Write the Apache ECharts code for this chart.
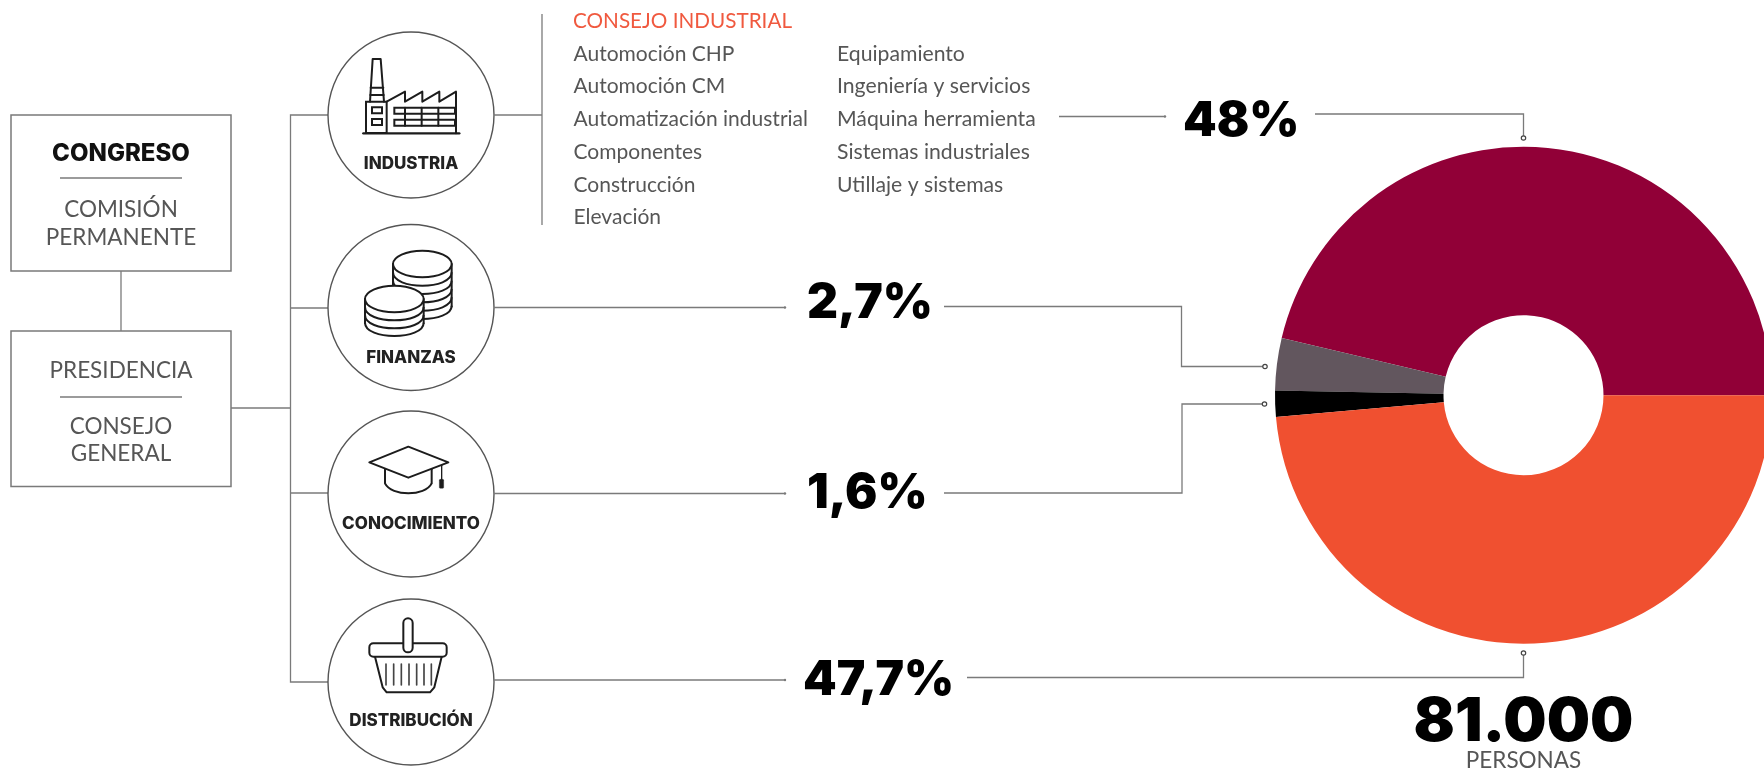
<!DOCTYPE html>
<html><head><meta charset="utf-8">
<style>html,body{margin:0;padding:0;background:#fff;overflow:hidden}#c{width:1764px;height:769px}</style>
<script src="https://cdn.jsdelivr.net/npm/echarts@6/dist/echarts.min.js"></script>
</head><body><div id="c"></div>
<script>
// --- data ---
const sectors = ['Industria', 'Finanzas', 'Conocimiento', 'Distribución'];
const printedShares = ['48%', '2,7%', '1,6%', '47,7%'];
// Wedge shares as drawn in the picture (measured from its wedge angles)
const drawnShares = [46.3, 3.4, 1.7, 48.6];
const sectorColors = ['#910037', '#62565e', '#000000', '#f05030'];
const circleLabels = ['INDUSTRIA', 'FINANZAS', 'CONOCIMIENTO', 'DISTRIBUCIÓN'];
const councilTitle = 'CONSEJO INDUSTRIAL';
const councilCol1 = ['Automoción CHP', 'Automoción CM', 'Automatización industrial', 'Componentes', 'Construcción', 'Elevación'];
const councilCol2 = ['Equipamiento', 'Ingeniería y servicios', 'Máquina herramienta', 'Sistemas industriales', 'Utillaje y sistemas'];
const box1Head = 'CONGRESO';
const box1Body = ['COMISIÓN', 'PERMANENTE'];
const box2Head = 'PRESIDENCIA';
const box2Body = ['CONSEJO', 'GENERAL'];
const totalValue = '81.000';
const totalLabel = 'PERSONAS';

// --- drawing helpers ---
const LINE = '#7a7a7a', INK = '#1c1c1c', BODY = '#565656', ORANGE = '#f0593f';
const LIGHT = 'Lato, sans-serif', HEAVY = 'Inter, sans-serif';
const g = [];
const line = (pts, w = 1.3, c = LINE) => g.push({type:'polyline', shape:{points:pts}, style:{stroke:c, lineWidth:w, fill:null}});
const text = (t, x, y, font, fill, align = 'left') => g.push({type:'text', x, y, style:{text:t, font, fill, align, verticalAlign:'middle'}});
const dot = (x, y, r = 2.2) => g.push({type:'circle', shape:{cx:x, cy:y, r}, style:{fill:'#fff', stroke:'#444', lineWidth:1.2}});
const tick = (x, y) => g.push({type:'circle', shape:{cx:x, cy:y, r:1.2}, style:{fill:LINE}});
const box = (x, y, w, h) => g.push({type:'rect', shape:{x, y, width:w, height:h}, style:{fill:'#fff', stroke:LINE, lineWidth:1.5}});

// Icon pieces, in a 3x local grid
const W = 6;
const iL = (pts, w = W, c = INK) => ({type:'polyline', shape:{points:pts}, style:{stroke:c, lineWidth:w, fill:null, lineJoin:'round', lineCap:'round'}});
const iR = (x, y, w, h, r = 0, fill = null, lw = W) => ({type:'rect', shape:{x, y, width:w, height:h, r}, style:{stroke:INK, lineWidth:lw, fill}});
const iE = (cx, cy, rx, ry, fill = '#fff') => ({type:'ellipse', shape:{cx, cy, rx, ry}, style:{stroke:INK, lineWidth:W, fill}});
const iB = (cx, cy, rx, ry) => ({type:'bezierCurve', shape:{x1:cx-rx, y1:cy, x2:cx+rx, y2:cy, cpx1:cx-rx, cpy1:cy+ry*1.33, cpx2:cx+rx, cpy2:cy+ry*1.33}, style:{stroke:INK, lineWidth:W, fill:null}});
const icon = (x, y, children) => g.push({type:'group', x, y, scaleX:1/3, scaleY:1/3, children});

// Left boxes
box(11, 115, 220, 156);
box(11, 331, 220, 155.5);
line([[121, 271], [121, 331]]);
text(box1Head, 121, 154, '800 24px ' + HEAVY, '#111', 'center');
line([[60, 178], [182, 178]]);
text(box1Body[0], 121, 210, '400 22.5px ' + LIGHT, BODY, 'center');
text(box1Body[1], 121, 238, '400 22.5px ' + LIGHT, BODY, 'center');
text(box2Head, 121, 371, '400 22.5px ' + LIGHT, BODY, 'center');
line([[60, 397], [182, 397]]);
text(box2Body[0], 121, 427, '400 22.5px ' + LIGHT, BODY, 'center');
text(box2Body[1], 121, 454, '400 22.5px ' + LIGHT, BODY, 'center');

// Org tree
line([[231, 408], [290.5, 408]]);
line([[328, 115], [290.5, 115], [290.5, 682], [328, 682]]);
line([[290.5, 308], [328, 308]]);
line([[290.5, 493], [328, 493]]);

// Circles with labels
const circleY = [115, 307.5, 494, 682];
const labelY = [164, 357.5, 524, 720.5];
circleY.forEach((cy, i) => {
  g.push({type:'circle', shape:{cx:411, cy, r:83}, style:{fill:'#fff', stroke:'#555', lineWidth:1.4}});
  text(circleLabels[i], 411, labelY[i], '800 17px ' + HEAVY, '#222', 'center');
});

// Factory
icon(350, 45, [
  iL([[60,170],[68,42],[92,42],[102,170]]),
  iL([[62,128],[100,128]]), iL([[61,150],[101,150]]),
  iR(48,170,62,94), iR(66,187,30,18), iR(66,222,30,18),
  iL([[110,170],[165,140],[165,170],[217,140],[217,170],[268,140],[268,170],[318,140],[318,265]]),
  iR(133,188,182,18), iR(133,224,182,18),
  iL([[165,188],[165,242]]), iL([[215,188],[215,242]]), iL([[265,188],[265,242]]),
  iL([[40,265],[328,265]], 7)
]);
// Coins
icon(350, 240, [
  iL([[129,72],[129,135]]), iL([[305,72],[305,200]]),
  iB(217,97,88,40), iB(217,122,88,40), iB(217,147,88,40), iB(217,172,88,40), iB(217,197,88,40),
  iE(217,72,88,40),
  {type:'rect', shape:{x:45,y:177,width:176,height:75}, style:{fill:'#fff'}},
  {type:'ellipse', shape:{cx:133,cy:250,rx:88,ry:40}, style:{fill:'#fff'}},
  iL([[45,177],[45,250]]), iL([[221,177],[221,250]]),
  iB(133,201,88,40), iB(133,225,88,40), iB(133,248,88,40),
  iE(133,177,88,40)
]);
// Graduation cap
icon(350, 430, [
  iL([[105,118],[105,160]]), iL([[245,118],[245,160]]),
  {type:'bezierCurve', shape:{x1:105,y1:160,x2:245,y2:160,cpx1:125,cpy1:200,cpx2:225,cpy2:200}, style:{stroke:INK,lineWidth:W,fill:null}},
  {type:'polygon', shape:{points:[[58,97],[175,50],[295,97],[175,143]]}, style:{stroke:INK,lineWidth:W,fill:'#fff',lineJoin:'round'}},
  iL([[275,106],[275,150]], 4),
  iR(268,148,13,27,3,INK,1)
]);
// Basket
icon(350, 610, [
  iL([[75,140],[98,232],[110,247],[240,247],[253,232],[275,140]]),
  iR(58,100,232,40,12,'#fff'),
  iR(160,25,28,102,14,'#fff'),
  ...[108,131,154,177,200,222,244].map(x => iL([[x,162],[x,225]], 5, '#444'))
]);

// Council list
line([[542, 14], [542, 225]]);
line([[494, 115], [542, 115]]);
text(councilTitle, 573, 21, '400 20.7px ' + LIGHT, ORANGE);
const rowY = [54, 86.5, 119.5, 152.5, 185, 217.5];
councilCol1.forEach((t, i) => text(t, 573.5, rowY[i], '400 21px ' + LIGHT, BODY));
councilCol2.forEach((t, i) => text(t, 837, rowY[i], '400 21.2px ' + LIGHT, BODY));

// Percent callouts
const pctFont = '900 48px ' + HEAVY;
text(printedShares[0], 1183, 122, pctFont, '#000');
text(printedShares[1], 807, 304, pctFont, '#000');
text(printedShares[2], 807, 494, pctFont, '#000');
text(printedShares[3], 803, 681, pctFont, '#000');

line([[1059, 116.5], [1165, 116.5]]); tick(1165, 116.5);
line([[1315, 114], [1523.5, 114], [1523.5, 138]]); dot(1523.5, 138);

line([[494, 307.5], [785, 307.5]]); tick(785, 307.5);
line([[944, 306.5], [1181.5, 306.5], [1181.5, 366.5], [1265, 366.5]]); dot(1265, 366.5);

line([[494, 493.5], [785, 493.5]]); tick(785, 493.5);
line([[944, 493], [1182, 493], [1182, 404], [1264.5, 404]]); dot(1264.5, 404);

line([[494, 680], [785, 680]]); tick(785, 680);
line([[967, 677.5], [1523.5, 677.5], [1523.5, 653]]); dot(1523.5, 653);

// Total
text(totalValue, 1523.5, 723, '900 61px ' + HEAVY, '#000', 'center');
text(totalLabel, 1523.5, 761, '400 22.5px ' + LIGHT, BODY, 'center');

const chart = echarts.init(document.getElementById('c'), null, {renderer:'canvas'});
chart.setOption({
  animation:false,
  backgroundColor:'#fff',
  graphic:{elements:g},
  series:[{
    type:'pie',
    center:[1523.5, 395.2],
    radius:[80, 248.5],
    startAngle:0,
    clockwise:false,
    silent:true,
    label:{show:false},
    labelLine:{show:false},
    data:sectors.map((name, i) => ({name, value:drawnShares[i], itemStyle:{color:sectorColors[i]}}))
  }]
});
</script></body></html>
